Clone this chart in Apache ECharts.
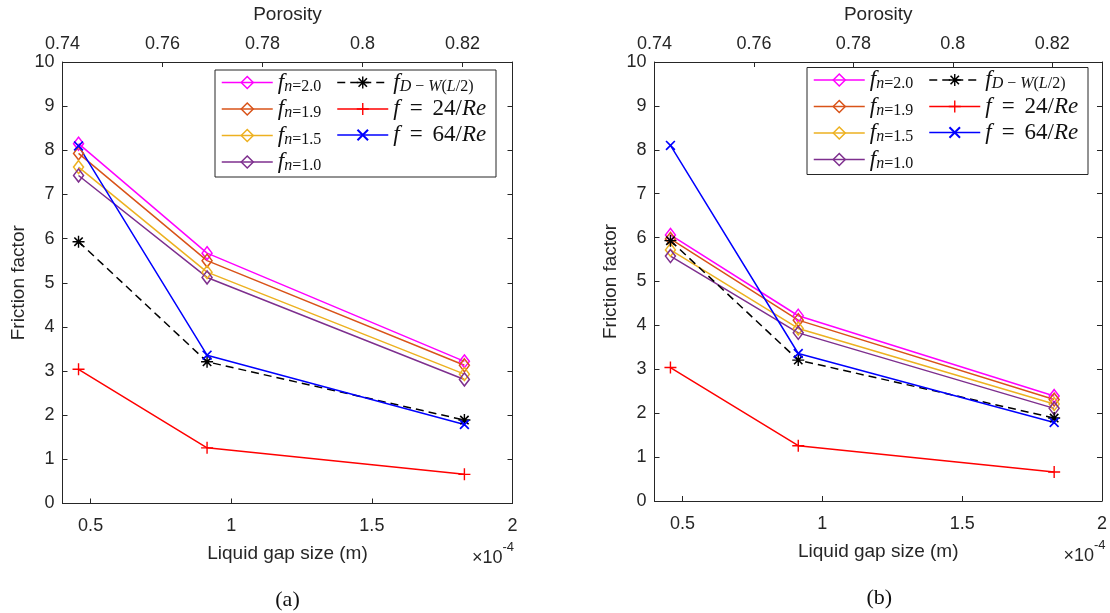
<!DOCTYPE html>
<html>
<head>
<meta charset="utf-8">
<script src="https://cdn.jsdelivr.net/npm/echarts@6/dist/echarts.min.js"></script>
<style>
  html, body { margin: 0; padding: 0; background: #fff; }
  #chart { width: 1110px; height: 613px; }
</style>
</head>
<body>
<div id="chart"></div>
<script>
// Liquid gap size, in units of 1e-4 m
const gapSize = [0.457, 0.914, 1.829];
const gapTicks = [0.5, 1, 1.5, 2];
const porosityTicks = [0.74, 0.76, 0.78, 0.8, 0.82];
const frictionTicksMax = 10;

// Panel (a)
const fn20a = [8.15, 5.67, 3.22];
const fn19a = [7.93, 5.50, 3.13];
const fn15a = [7.62, 5.24, 2.93];
const fn10a = [7.43, 5.12, 2.81];
// Panel (b)
const fn20b = [6.06, 4.22, 2.39];
const fn19b = [5.97, 4.12, 2.31];
const fn15b = [5.72, 3.93, 2.21];
const fn10b = [5.58, 3.83, 2.11];
// Reference correlations (same in both panels)
const fDW = [5.93, 3.21, 1.89];
const f24 = [3.04, 1.26, 0.66];
const f64 = [8.10, 3.36, 1.79];

const seriesNames = ['fn20', 'fn19', 'fn15', 'fn10', 'fDW', 'f24', 'f64'];
const legendText = {
  fn20: '{i|f}{si|n}{sr|=2.0}',
  fn19: '{i|f}{si|n}{sr|=1.9}',
  fn15: '{i|f}{si|n}{sr|=1.5}',
  fn10: '{i|f}{si|n}{sr|=1.0}',
  fDW: '{i|f}{si|D}{sr| \u2212 }{si|W}{sr|(}{si|L}{sr|/2)}',
  f24: '{i|f}{eq|=}{r|24/}{i|Re}',
  f64: '{i|f}{eq|=}{r|64/}{i|Re}'
};

const plusPath = 'M5.3,0H6.7V5.3H12V6.7H6.7V12H5.3V6.7H0V5.3H5.3Z';
const diag1 = 'M10.77,9.63L9.63,10.77L1.23,2.37L2.37,1.23Z';
const diag2 = 'M9.63,1.23L10.77,2.37L2.37,10.77L1.23,9.63Z';
const SYM_PLUS = 'path://' + plusPath;
const SYM_X = 'path://' + diag1 + diag2;
const SYM_STAR = 'path://' + plusPath + diag1 + diag2;

const styles = {
  fn20: { color: '#FF00FF', symbol: 'diamond', size: [10, 13], hollow: true, type: 'solid' },
  fn19: { color: '#D95319', symbol: 'diamond', size: [10, 13], hollow: true, type: 'solid' },
  fn15: { color: '#EDB120', symbol: 'diamond', size: [10, 13], hollow: true, type: 'solid' },
  fn10: { color: '#7E2F8E', symbol: 'diamond', size: [10, 13], hollow: true, type: 'solid' },
  fDW:  { color: '#000000', symbol: SYM_STAR, size: 12, hollow: false, type: [8, 5] },
  f24:  { color: '#FF0000', symbol: SYM_PLUS, size: 12, hollow: false, type: 'solid' },
  f64:  { color: '#0000FF', symbol: SYM_X, size: 10, hollow: false, type: 'solid' }
};

const panels = [
  { grid: { left: 62.5, top: 57, width: 450, height: 446.5 }, caption: '(a)',
    data: { fn20: fn20a, fn19: fn19a, fn15: fn15a, fn10: fn10a, fDW: fDW, f24: f24, f64: f64 } },
  { grid: { left: 654.5, top: 54.5, width: 449.5, height: 446.5 }, caption: '(b)',
    data: { fn20: fn20b, fn19: fn19b, fn15: fn15b, fn10: fn10b, fDW: fDW, f24: f24, f64: f64 } }
];

const AX = '#262626';
const TICK_FS = 18;
const NAME_FS = 19;
const FONT = 'Liberation Sans';
const SERIF = 'Liberation Serif';

function itemStyleOf(s) {
  return s.hollow
    ? { color: 'rgba(0,0,0,0)', borderColor: s.color, borderWidth: 1.5 }
    : { color: s.color, borderWidth: 0 };
}

const xAxes = [], yAxes = [], series = [], legends = [], graphics = [];
const rich = {
  i:  { fontFamily: SERIF, fontStyle: 'italic', fontSize: 23, lineHeight: 24, color: '#111' },
  r:  { fontFamily: SERIF, fontSize: 23, lineHeight: 24, color: '#111' },
  eq: { fontFamily: SERIF, fontSize: 23, lineHeight: 24, color: '#111', padding: [0, 10, 0, 10] },
  si: { fontFamily: SERIF, fontStyle: 'italic', fontSize: 16, lineHeight: 10, verticalAlign: 'bottom', color: '#111' },
  sr: { fontFamily: SERIF, fontSize: 16, lineHeight: 10, verticalAlign: 'bottom', color: '#111' }
};

panels.forEach((p, k) => {
  const g = p.grid;
  const lineCommon = { show: true, onZero: false, lineStyle: { color: AX, width: 1 } };
  const tickCommon = { show: true, inside: true, length: 5, lineStyle: { color: AX, width: 1 } };
  // bottom: gap size
  xAxes.push({
    type: 'value', gridIndex: k, position: 'bottom', min: 0.4, max: 2,
    axisLine: lineCommon,
    axisTick: Object.assign({ customValues: gapTicks }, tickCommon),
    axisLabel: { customValues: gapTicks, margin: 14, fontSize: TICK_FS, color: AX, fontFamily: FONT },
    splitLine: { show: false },
    name: 'Liquid gap size (m)', nameLocation: 'middle', nameGap: 41,
    nameTextStyle: { fontSize: NAME_FS, color: AX, fontFamily: FONT }
  });
  // top: porosity
  xAxes.push({
    type: 'value', gridIndex: k, position: 'top', min: 0.74, max: 0.83,
    axisLine: lineCommon,
    axisTick: Object.assign({ customValues: porosityTicks }, tickCommon),
    axisLabel: { customValues: porosityTicks, margin: 9, fontSize: TICK_FS, color: AX, fontFamily: FONT },
    splitLine: { show: false },
    name: 'Porosity', nameLocation: 'middle', nameGap: 38,
    nameTextStyle: { fontSize: NAME_FS, color: AX, fontFamily: FONT }
  });
  yAxes.push({
    type: 'value', gridIndex: k, position: 'left', min: 0, max: frictionTicksMax, interval: 1,
    axisLine: lineCommon, axisTick: tickCommon,
    axisLabel: { margin: 8, fontSize: TICK_FS, color: AX, fontFamily: FONT },
    splitLine: { show: false },
    name: 'Friction factor', nameLocation: 'middle', nameGap: 34, nameRotate: 90,
    nameTextStyle: { fontSize: NAME_FS, color: AX, fontFamily: FONT }
  });
  yAxes.push({
    type: 'value', gridIndex: k, position: 'right', min: 0, max: frictionTicksMax, interval: 1,
    axisLine: lineCommon, axisTick: tickCommon,
    axisLabel: { show: false }, splitLine: { show: false }
  });

  seriesNames.forEach(name => {
    const s = styles[name];
    series.push({
      type: 'line', name: name, xAxisIndex: k * 2, yAxisIndex: k * 2,
      data: gapSize.map((x, i) => [x, p.data[name][i]]),
      symbol: s.symbol, symbolSize: s.size, showSymbol: true,
      lineStyle: { color: s.color, width: 1.5, type: s.type },
      itemStyle: itemStyleOf(s),
      emphasis: { disabled: true }, silent: true, animation: false
    });
  });

  // legend box
  const boxLeft = g.left + 152.5, boxTop = g.top + 13;
  graphics.push({
    type: 'rect', z: 3, silent: true,
    shape: { x: boxLeft, y: boxTop, width: 281, height: 107 },
    style: { fill: '#fff', stroke: AX, lineWidth: 1 }
  });
  const legendItem = name => ({
    name: name,
    itemStyle: itemStyleOf(styles[name]),
    lineStyle: { color: styles[name].color, width: 1.5, type: styles[name].type }
  });
  const legendBase = {
    orient: 'vertical', itemWidth: 51, itemHeight: 15, itemGap: 3, padding: 0,
    selectedMode: false, z: 5,
    formatter: n => legendText[n],
    textStyle: { rich: rich, fontFamily: SERIF, fontSize: 23 }
  };
  legends.push(Object.assign({}, legendBase, {
    left: boxLeft + 6, top: boxTop + 1, data: seriesNames.slice(0, 4).map(legendItem)
  }));
  legends.push(Object.assign({}, legendBase, {
    left: boxLeft + 121.5, top: boxTop + 1, data: seriesNames.slice(4).map(legendItem)
  }));

  // axis multiplier (x10^-4) and panel caption
  const right = g.left + g.width, bottom = g.top + g.height;
  graphics.push({
    type: 'text', x: right - 10, y: bottom + 55, z: 3, silent: true,
    style: { text: '\u00d710', fontSize: 18, fontFamily: FONT, fill: AX, align: 'right', verticalAlign: 'middle' }
  });
  graphics.push({
    type: 'text', x: right - 10, y: bottom + 44, z: 3, silent: true,
    style: { text: '-4', fontSize: 13, fontFamily: FONT, fill: AX, align: 'left', verticalAlign: 'middle' }
  });
  graphics.push({
    type: 'text', x: g.left + g.width / 2, y: bottom + 97, z: 3, silent: true,
    style: { text: p.caption, fontSize: 22, fontFamily: SERIF, fill: '#111', align: 'center', verticalAlign: 'middle' }
  });
});

const chart = echarts.init(document.getElementById('chart'), null, { renderer: 'canvas' });
chart.setOption({
  animation: false,
  backgroundColor: '#fff',
  textStyle: { fontFamily: FONT },
  grid: panels.map(p => Object.assign({ containLabel: false }, p.grid)),
  xAxis: xAxes,
  yAxis: yAxes,
  legend: legends,
  graphic: graphics,
  series: series
});
</script>
</body>
</html>
